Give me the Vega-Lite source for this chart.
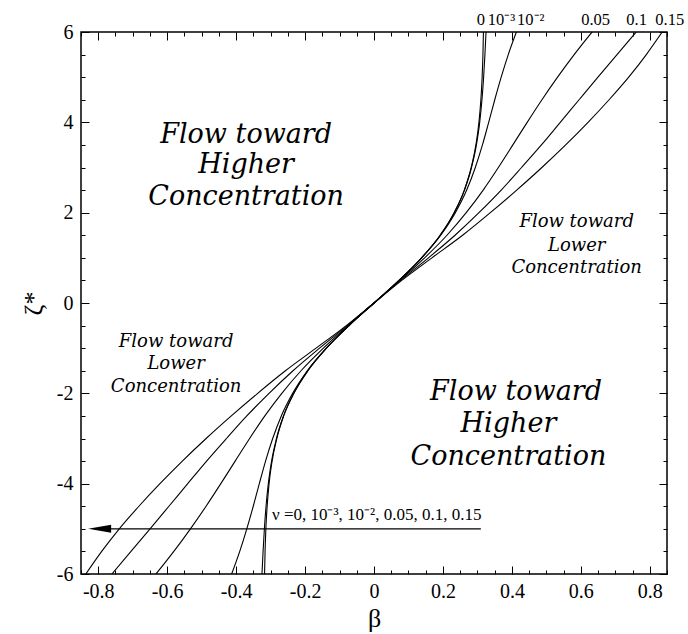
{
"$schema": "https://vega.github.io/schema/vega-lite/v6.json",
"width": 586, "height": 542,
"autosize": "none",
"padding": {"left": 81, "top": 32, "right": 21, "bottom": 60},
"background": "white",
"config": {
  "view": {"stroke": "black", "strokeWidth": 1.5},
  "axis": {"labelFont": "Liberation Serif", "titleFont": "Liberation Serif", "labelColor": "black", "titleColor": "black", "tickColor": "black", "domainColor": "black", "grid": false, "titleFontWeight": "normal"}
},
"datasets": {
  "curves": [
    {"n":"0","z":-6,"b":-0.3175},{"n":"0","z":-5.5,"b":-0.316},{"n":"0","z":-5,"b":-0.3137},{"n":"0","z":-4.5,"b":-0.31},{"n":"0","z":-4,"b":-0.3044},{"n":"0","z":-3.5,"b":-0.2956},{"n":"0","z":-3,"b":-0.282},{"n":"0","z":-2.5,"b":-0.262},{"n":"0","z":-2,"b":-0.2325},{"n":"0","z":-1.5,"b":-0.192},{"n":"0","z":-1,"b":-0.138},{"n":"0","z":-0.5,"b":-0.0725},{"n":"0","z":0,"b":0},{"n":"0","z":0.5,"b":0.0725},{"n":"0","z":1,"b":0.138},{"n":"0","z":1.5,"b":0.192},{"n":"0","z":2,"b":0.2325},{"n":"0","z":2.5,"b":0.262},{"n":"0","z":3,"b":0.282},{"n":"0","z":3.5,"b":0.2956},{"n":"0","z":4,"b":0.3044},{"n":"0","z":4.5,"b":0.31},{"n":"0","z":5,"b":0.3137},{"n":"0","z":5.5,"b":0.316},{"n":"0","z":6,"b":0.3175},
    {"n":"1e-3","z":-6,"b":-0.325},{"n":"1e-3","z":-5.5,"b":-0.3218},{"n":"1e-3","z":-5,"b":-0.318},{"n":"1e-3","z":-4.5,"b":-0.3132},{"n":"1e-3","z":-4,"b":-0.3066},{"n":"1e-3","z":-3.5,"b":-0.2971},{"n":"1e-3","z":-3,"b":-0.2829},{"n":"1e-3","z":-2.5,"b":-0.2625},{"n":"1e-3","z":-2,"b":-0.2328},{"n":"1e-3","z":-1.5,"b":-0.192},{"n":"1e-3","z":-1,"b":-0.138},{"n":"1e-3","z":-0.5,"b":-0.0725},{"n":"1e-3","z":0,"b":0},{"n":"1e-3","z":0.5,"b":0.0725},{"n":"1e-3","z":1,"b":0.138},{"n":"1e-3","z":1.5,"b":0.192},{"n":"1e-3","z":2,"b":0.2328},{"n":"1e-3","z":2.5,"b":0.2625},{"n":"1e-3","z":3,"b":0.2829},{"n":"1e-3","z":3.5,"b":0.2971},{"n":"1e-3","z":4,"b":0.3066},{"n":"1e-3","z":4.5,"b":0.3132},{"n":"1e-3","z":5,"b":0.318},{"n":"1e-3","z":5.5,"b":0.3218},{"n":"1e-3","z":6,"b":0.325},
    {"n":"1e-2","z":-6,"b":-0.413},{"n":"1e-2","z":-5.5,"b":-0.3895},{"n":"1e-2","z":-5,"b":-0.369},{"n":"1e-2","z":-4.5,"b":-0.3503},{"n":"1e-2","z":-4,"b":-0.3327},{"n":"1e-2","z":-3.5,"b":-0.3146},{"n":"1e-2","z":-3,"b":-0.2939},{"n":"1e-2","z":-2.5,"b":-0.2689},{"n":"1e-2","z":-2,"b":-0.236},{"n":"1e-2","z":-1.5,"b":-0.1935},{"n":"1e-2","z":-1,"b":-0.1384},{"n":"1e-2","z":-0.5,"b":-0.0726},{"n":"1e-2","z":0,"b":0},{"n":"1e-2","z":0.5,"b":0.0726},{"n":"1e-2","z":1,"b":0.1384},{"n":"1e-2","z":1.5,"b":0.1935},{"n":"1e-2","z":2,"b":0.236},{"n":"1e-2","z":2.5,"b":0.2689},{"n":"1e-2","z":3,"b":0.2939},{"n":"1e-2","z":3.5,"b":0.3146},{"n":"1e-2","z":4,"b":0.3327},{"n":"1e-2","z":4.5,"b":0.3503},{"n":"1e-2","z":5,"b":0.369},{"n":"1e-2","z":5.5,"b":0.3895},{"n":"1e-2","z":6,"b":0.413},
    {"n":"0.05","z":-6,"b":-0.6325},{"n":"0.05","z":-5.5,"b":-0.5807},{"n":"0.05","z":-5,"b":-0.5325},{"n":"0.05","z":-4.5,"b":-0.4872},{"n":"0.05","z":-4,"b":-0.4444},{"n":"0.05","z":-3.5,"b":-0.4028},{"n":"0.05","z":-3,"b":-0.3608},{"n":"0.05","z":-2.5,"b":-0.3167},{"n":"0.05","z":-2,"b":-0.2675},{"n":"0.05","z":-1.5,"b":-0.2117},{"n":"0.05","z":-1,"b":-0.1468},{"n":"0.05","z":-0.5,"b":-0.0747},{"n":"0.05","z":0,"b":0},{"n":"0.05","z":0.5,"b":0.0747},{"n":"0.05","z":1,"b":0.1468},{"n":"0.05","z":1.5,"b":0.2117},{"n":"0.05","z":2,"b":0.2675},{"n":"0.05","z":2.5,"b":0.3167},{"n":"0.05","z":3,"b":0.3608},{"n":"0.05","z":3.5,"b":0.4028},{"n":"0.05","z":4,"b":0.4444},{"n":"0.05","z":4.5,"b":0.4872},{"n":"0.05","z":5,"b":0.5325},{"n":"0.05","z":5.5,"b":0.5807},{"n":"0.05","z":6,"b":0.6325},
    {"n":"0.1","z":-6,"b":-0.7605},{"n":"0.1","z":-5.5,"b":-0.705},{"n":"0.1","z":-5,"b":-0.6497},{"n":"0.1","z":-4.5,"b":-0.595},{"n":"0.1","z":-4,"b":-0.5404},{"n":"0.1","z":-3.5,"b":-0.4856},{"n":"0.1","z":-3,"b":-0.428},{"n":"0.1","z":-2.5,"b":-0.369},{"n":"0.1","z":-2,"b":-0.3045},{"n":"0.1","z":-1.5,"b":-0.235},{"n":"0.1","z":-1,"b":-0.158},{"n":"0.1","z":-0.5,"b":-0.0775},{"n":"0.1","z":0,"b":0},{"n":"0.1","z":0.5,"b":0.0775},{"n":"0.1","z":1,"b":0.158},{"n":"0.1","z":1.5,"b":0.235},{"n":"0.1","z":2,"b":0.3045},{"n":"0.1","z":2.5,"b":0.369},{"n":"0.1","z":3,"b":0.428},{"n":"0.1","z":3.5,"b":0.4856},{"n":"0.1","z":4,"b":0.5404},{"n":"0.1","z":4.5,"b":0.595},{"n":"0.1","z":5,"b":0.6497},{"n":"0.1","z":5.5,"b":0.705},{"n":"0.1","z":6,"b":0.7605},
    {"n":"0.15","z":-6,"b":-0.836},{"n":"0.15","z":-5.5,"b":-0.79},{"n":"0.15","z":-5,"b":-0.739},{"n":"0.15","z":-4.5,"b":-0.682},{"n":"0.15","z":-4,"b":-0.621},{"n":"0.15","z":-3.5,"b":-0.556},{"n":"0.15","z":-3,"b":-0.487},{"n":"0.15","z":-2.5,"b":-0.414},{"n":"0.15","z":-2,"b":-0.3375},{"n":"0.15","z":-1.5,"b":-0.257},{"n":"0.15","z":-1,"b":-0.168},{"n":"0.15","z":-0.5,"b":-0.0805},{"n":"0.15","z":0,"b":0},{"n":"0.15","z":0.5,"b":0.0805},{"n":"0.15","z":1,"b":0.168},{"n":"0.15","z":1.5,"b":0.257},{"n":"0.15","z":2,"b":0.3375},{"n":"0.15","z":2.5,"b":0.414},{"n":"0.15","z":3,"b":0.487},{"n":"0.15","z":3.5,"b":0.556},{"n":"0.15","z":4,"b":0.621},{"n":"0.15","z":4.5,"b":0.682},{"n":"0.15","z":5,"b":0.739},{"n":"0.15","z":5.5,"b":0.79},{"n":"0.15","z":6,"b":0.836}
  ],
  "arrow": [{"b": 0.31, "z": -5}, {"b": -0.8, "z": -5}],
  "head": [{"b": -0.796, "z": -5}],
  "big": [
    {"t": "Flow toward", "b": -0.371, "z": 3.72},
    {"t": "Higher", "b": -0.371, "z": 3.05},
    {"t": "Concentration", "b": -0.371, "z": 2.35},
    {"t": "Flow toward", "b": 0.412, "z": -1.97},
    {"t": "Higher", "b": 0.39, "z": -2.68},
    {"t": "Concentration", "b": 0.39, "z": -3.41}
  ],
  "small": [
    {"t": "Flow toward", "b": 0.588, "z": 1.79},
    {"t": "Lower", "b": 0.588, "z": 1.26},
    {"t": "Concentration", "b": 0.588, "z": 0.77},
    {"t": "Flow toward", "b": -0.574, "z": -0.86},
    {"t": "Lower", "b": -0.574, "z": -1.35},
    {"t": "Concentration", "b": -0.574, "z": -1.86}
  ],
  "toplabels": [
    {"t": "0", "b": 0.31, "z": 6},
    {"t": "10⁻³", "b": 0.37, "z": 6},
    {"t": "10⁻²", "b": 0.455, "z": 6},
    {"t": "0.05", "b": 0.643, "z": 6},
    {"t": "0.1", "b": 0.762, "z": 6},
    {"t": "0.15", "b": 0.858, "z": 6}
  ],
  "nulabel": [{"t": "ν =0, 10⁻³, 10⁻², 0.05, 0.1, 0.15", "b": -0.296, "z": -4.8}]
},
"resolve": {"axis": {"x": "independent", "y": "independent"}},
"layer": [
  {
    "data": {"name": "curves"},
    "mark": {"type": "line", "color": "black", "strokeWidth": 1.1, "interpolate": "monotone", "clip": true},
    "encoding": {
      "x": {"field": "b", "type": "quantitative", "scale": {"domain": [-0.85, 0.85], "nice": false, "zero": false},
        "axis": {"orient": "bottom", "domain": false,
          "values": [-0.85,-0.8,-0.75,-0.7,-0.65,-0.6,-0.55,-0.5,-0.45,-0.4,-0.35,-0.3,-0.25,-0.2,-0.15,-0.1,-0.05,0,0.05,0.1,0.15,0.2,0.25,0.3,0.35,0.4,0.45,0.5,0.55,0.6,0.65,0.7,0.75,0.8,0.85],
          "tickSize": {"condition": {"test": "abs(datum.value*5-round(datum.value*5))<0.001", "value": -8}, "value": -4},
          "labelExpr": "abs(datum.value*5-round(datum.value*5))<0.001 ? replace(format(datum.value,'~g'),'−','-') : ''",
          "labelFont": "Liberation Serif", "labelFontSize": 20, "labelPadding": 15, "labelFlush": false,
          "title": "β", "titleFont": "Liberation Serif", "titleFontSize": 26, "titlePadding": 4}},
      "y": {"field": "z", "type": "quantitative", "scale": {"domain": [-6, 6], "nice": false, "zero": false},
        "axis": {"orient": "left", "domain": false,
          "values": [-6,-5.5,-5,-4.5,-4,-3.5,-3,-2.5,-2,-1.5,-1,-0.5,0,0.5,1,1.5,2,2.5,3,3.5,4,4.5,5,5.5,6],
          "tickSize": {"condition": {"test": "abs(datum.value/2-round(datum.value/2))<0.001", "value": -8}, "value": -4},
          "labelExpr": "abs(datum.value/2-round(datum.value/2))<0.001 ? replace(format(datum.value,'~g'),'−','-') : ''",
          "labelFont": "Liberation Serif", "labelFontSize": 20, "labelPadding": 16, "labelFlush": false,
          "title": "ζ*", "titleFont": "Liberation Serif", "titleFontSize": 26, "titlePadding": 10}},
      "detail": {"field": "n"},
      "order": {"field": "z", "type": "quantitative"}
    }
  },
  {
    "data": {"name": "arrow"},
    "mark": {"type": "line", "color": "black", "strokeWidth": 1.1},
    "encoding": {
      "x": {"field": "b", "type": "quantitative",
        "axis": {"orient": "top", "domain": false, "labels": false, "title": null,
          "values": [-0.85,-0.8,-0.75,-0.7,-0.65,-0.6,-0.55,-0.5,-0.45,-0.4,-0.35,-0.3,-0.25,-0.2,-0.15,-0.1,-0.05,0,0.05,0.1,0.15,0.2,0.25,0.3,0.35,0.4,0.45,0.5,0.55,0.6,0.65,0.7,0.75,0.8,0.85],
          "tickSize": {"condition": {"test": "abs(datum.value*5-round(datum.value*5))<0.001", "value": -8}, "value": -4}}},
      "y": {"field": "z", "type": "quantitative",
        "axis": {"orient": "right", "domain": false, "labels": false, "title": null,
          "values": [-6,-5.5,-5,-4.5,-4,-3.5,-3,-2.5,-2,-1.5,-1,-0.5,0,0.5,1,1.5,2,2.5,3,3.5,4,4.5,5,5.5,6],
          "tickSize": {"condition": {"test": "abs(datum.value/2-round(datum.value/2))<0.001", "value": -8}, "value": -4}}}
    }
  },
  {
    "mark": {"type": "rule", "color": "black", "strokeWidth": 1.1},
    "encoding": {"y": {"datum": 0, "type": "quantitative", "axis": null}}
  },
  {
    "mark": {"type": "rule", "color": "black", "strokeWidth": 1.1},
    "encoding": {"x": {"datum": 0, "type": "quantitative", "axis": null}}
  },
  {
    "data": {"name": "head"},
    "mark": {"type": "point", "shape": "M-1,0L1,-0.35L1,0.35Z", "size": 529, "filled": true, "color": "black", "opacity": 1},
    "encoding": {
      "x": {"field": "b", "type": "quantitative", "axis": null},
      "y": {"field": "z", "type": "quantitative", "axis": null}
    }
  },
  {
    "data": {"name": "big"},
    "mark": {"type": "text", "font": "DejaVu Serif", "fontStyle": "italic", "fontSize": 27, "color": "black", "align": "center", "baseline": "middle"},
    "encoding": {
      "x": {"field": "b", "type": "quantitative", "axis": null},
      "y": {"field": "z", "type": "quantitative", "axis": null},
      "text": {"field": "t"}
    }
  },
  {
    "data": {"name": "small"},
    "mark": {"type": "text", "font": "DejaVu Serif", "fontStyle": "italic", "fontSize": 18, "color": "black", "align": "center", "baseline": "middle"},
    "encoding": {
      "x": {"field": "b", "type": "quantitative", "axis": null},
      "y": {"field": "z", "type": "quantitative", "axis": null},
      "text": {"field": "t"}
    }
  },
  {
    "data": {"name": "toplabels"},
    "mark": {"type": "text", "font": "Liberation Serif", "fontSize": 16.5, "color": "black", "align": "center", "baseline": "alphabetic", "dy": -7, "clip": false},
    "encoding": {
      "x": {"field": "b", "type": "quantitative", "axis": null},
      "y": {"field": "z", "type": "quantitative", "axis": null},
      "text": {"field": "t"}
    }
  },
  {
    "data": {"name": "nulabel"},
    "mark": {"type": "text", "font": "Liberation Serif", "fontSize": 17, "color": "black", "align": "left", "baseline": "alphabetic"},
    "encoding": {
      "x": {"field": "b", "type": "quantitative", "axis": null},
      "y": {"field": "z", "type": "quantitative", "axis": null},
      "text": {"field": "t"}
    }
  }
]
}
